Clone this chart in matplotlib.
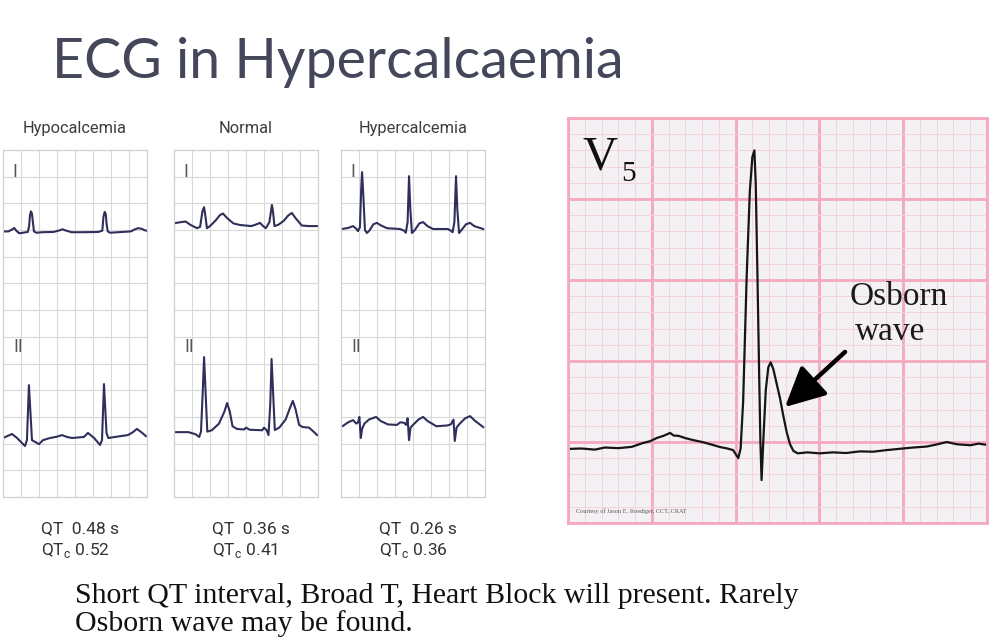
import matplotlib
matplotlib.use('Agg')
import matplotlib.pyplot as plt

W, H = 996, 643

# ---------------------------------------------------------------
# Data: ECG traces (grid units of each strip)
panel_names = ['Hypocalcemia', 'Normal', 'Hypercalcemia']
qt_values = ['0.48 s', '0.36 s', '0.26 s']
qtc_values = ['0.52', '0.41', '0.36']

hypo_I_x = [0, 0.3, 0.5, 0.62, 0.75, 0.9, 1.1, 1.38, 1.45, 1.5, 1.55, 1.61, 1.66, 1.72, 1.85, 2.2, 2.8, 3.1,
            3.3, 3.5, 3.8, 4.5, 5.3, 5.52, 5.58, 5.65, 5.71, 5.76, 5.82, 5.95, 6.4, 7.1, 7.3, 7.5, 7.7, 7.85, 8.0]
hypo_I_y = [9.95, 9.95, 10.02, 10.08, 9.97, 9.88, 9.9, 9.93, 10.15, 10.55, 10.7, 10.62, 10.3, 9.95, 9.9, 9.92,
            9.93, 9.98, 10.03, 9.98, 9.92, 9.92, 9.93, 9.98, 10.5, 10.68, 10.6, 10.2, 9.95, 9.9, 9.92, 9.95, 10.02,
            10.07, 10.05, 10.0, 9.97]
hypo_II_x = [0, 0.5, 0.78, 1.22, 1.33, 1.44, 1.61, 2.0, 2.22, 2.61, 3.0, 3.28, 3.55, 3.83, 4.5, 4.72, 4.9, 5.06,
             5.39, 5.5, 5.61, 5.75, 5.85, 6.22, 6.94, 7.2, 7.44, 7.7, 7.94]
hypo_II_y = [2.21, 2.36, 2.21, 1.91, 2.13, 4.19, 2.13, 1.98, 2.13, 2.21, 2.26, 2.32, 2.25, 2.21, 2.25, 2.4, 2.3,
             2.21, 1.95, 2.13, 4.23, 2.4, 2.21, 2.25, 2.32, 2.42, 2.55, 2.42, 2.28]

norm_I_x = [0.05, 0.4, 0.65, 0.9, 1.28, 1.45, 1.58, 1.67, 1.75, 1.83, 2.0, 2.3, 2.55, 2.72, 2.95, 3.3, 3.67, 4.3,
            4.6, 4.78, 4.95, 5.1, 5.3, 5.44, 5.5, 5.58, 5.8, 6.1, 6.35, 6.55, 6.75, 7.1, 7.5, 8.0]
norm_I_y = [10.26, 10.3, 10.32, 10.2, 10.07, 10.12, 10.7, 10.86, 10.5, 10.07, 10.15, 10.35, 10.56, 10.62, 10.45,
            10.25, 10.19, 10.15, 10.22, 10.27, 10.15, 10.07, 10.3, 10.94, 10.7, 10.15, 10.2, 10.35, 10.55, 10.64,
            10.45, 10.17, 10.15, 10.15]
norm_II_x = [0.05, 0.8, 1.2, 1.4, 1.5, 1.6, 1.67, 1.75, 1.85, 2.1, 2.5, 2.8, 2.95, 3.1, 3.25, 3.5, 3.9, 4.0, 4.2,
             4.9, 5.0, 5.15, 5.25, 5.35, 5.42, 5.5, 5.6, 5.85, 6.2, 6.45, 6.6, 6.75, 6.95, 7.15, 7.5, 7.75, 7.95]
norm_II_y = [2.43, 2.43, 2.35, 2.25, 2.45, 4.0, 5.24, 4.0, 2.45, 2.5, 2.75, 3.2, 3.52, 3.2, 2.65, 2.55, 2.53, 2.6,
             2.52, 2.5, 2.6, 2.5, 2.32, 3.5, 5.17, 4.0, 2.51, 2.6, 2.9, 3.35, 3.6, 3.3, 2.7, 2.62, 2.6, 2.45, 2.32]

hyper_I_x = [0.05, 0.4, 0.67, 0.85, 0.94, 1.05, 1.12, 1.17, 1.24, 1.33, 1.44, 1.6, 1.8, 2.0, 2.2, 2.56, 3.28, 3.5,
             3.6, 3.7, 3.78, 3.85, 3.94, 4.1, 4.35, 4.56, 4.8, 5.11, 5.94, 6.1, 6.2, 6.3, 6.39, 6.46, 6.56, 6.75,
             6.95, 7.17, 7.4, 7.9]
hyper_I_y = [10.04, 10.08, 10.15, 10.05, 9.96, 10.1, 11.5, 12.17, 11.3, 10.0, 9.89, 10.0, 10.22, 10.27, 10.18,
             10.07, 10.04, 9.98, 9.9, 10.3, 12.02, 10.8, 9.89, 10.0, 10.25, 10.3, 10.15, 10.04, 10.04, 9.98, 9.92,
             10.3, 12.02, 10.8, 9.89, 10.05, 10.22, 10.27, 10.15, 10.04]
hyper_II_x = [0.1, 0.4, 0.67, 0.85, 0.95, 1.02, 1.1, 1.17, 1.3, 1.55, 1.95, 2.2, 2.6, 3.1, 3.3, 3.5, 3.62, 3.7,
              3.78, 3.86, 4.0, 4.3, 4.56, 4.8, 5.3, 5.9, 6.1, 6.25, 6.32, 6.42, 6.6, 6.9, 7.17, 7.45, 7.9]
hyper_II_y = [2.66, 2.8, 2.88, 2.75, 2.8, 3.0, 2.21, 2.55, 2.75, 2.9, 3.0, 2.85, 2.72, 2.7, 2.8, 2.78, 2.7, 2.95,
              2.13, 2.6, 2.7, 2.9, 3.0, 2.85, 2.65, 2.68, 2.72, 2.9, 2.1, 2.6, 2.75, 2.95, 3.03, 2.85, 2.62]

# V5 strip, millimetre units (5 mm per big square)
v5_x = [0, 0.8, 1.6, 2.2, 3.0, 3.8, 4.48, 4.9, 5.3, 5.7, 6.09, 6.3, 6.6, 7.0, 7.46, 8.0, 8.5, 9.07, 9.5, 9.85,
        10.16, 10.3, 10.45, 10.66, 10.85, 11.0, 11.12, 11.2, 11.3, 11.4, 11.48, 11.55, 11.65, 11.8, 11.95, 12.09,
        12.25, 12.45, 12.65, 12.85, 13.05, 13.25, 13.45, 13.7, 14.3, 15.0, 15.8, 16.6, 17.4, 18.2, 19.0, 19.8,
        20.6, 21.4, 22.0, 22.6, 23.2, 24.0, 24.5, 25.0]
v5_y = [4.57, 4.6, 4.53, 4.66, 4.62, 4.7, 4.94, 5.05, 5.25, 5.38, 5.56, 5.4, 5.38, 5.24, 5.12, 5.0, 4.86, 4.69,
        4.6, 4.5, 4.0, 4.6, 7.5, 15.2, 20.5, 22.6, 23.0, 21.0, 15.5, 9.5, 5.0, 2.65, 5.0, 8.2, 9.6, 9.92, 9.5,
        8.6, 7.7, 6.6, 5.6, 4.85, 4.45, 4.3, 4.36, 4.3, 4.36, 4.32, 4.42, 4.4, 4.5, 4.58, 4.66, 4.72, 4.85, 5.0,
        4.86, 4.8, 4.9, 4.82]

traces = [
    ((hypo_I_x, hypo_I_y), (hypo_II_x, hypo_II_y)),
    ((norm_I_x, norm_I_y), (norm_II_x, norm_II_y)),
    ((hyper_I_x, hyper_I_y), (hyper_II_x, hyper_II_y)),
]

# ---------------------------------------------------------------
narrow = ['Liberation Sans Narrow', 'Roboto', 'DejaVu Sans']
serif = ['Liberation Serif', 'DejaVu Serif']


def fx(px):
    return px / W


def fy(py):
    return 1 - py / H


fig = plt.figure(figsize=(W / 100, H / 100), dpi=100)
fig.patch.set_facecolor('white')

fig.text(fx(52), fy(78), 'ECG in Hypercalcaemia', family=['Lato', 'DejaVu Sans'], fontsize=40,
         color='#44475a', ha='left', va='baseline')

# three small strips
strip_left = [3, 174, 341]
for i, left in enumerate(strip_left):
    ax = fig.add_axes([fx(left), fy(497), 144 / W, 347 / H])
    ax.set_xlim(0, 8)
    ax.set_ylim(0, 13)
    ax.set_xticks(range(1, 8))
    ax.set_yticks(range(1, 13))
    ax.grid(True, color='#d9d9d9', lw=0.8)
    ax.tick_params(length=0, labelbottom=False, labelleft=False)
    for s in ax.spines.values():
        s.set_color('#d0d0d0')
        s.set_linewidth(0.9)
    for (tx, ty) in traces[i]:
        ax.plot(tx, ty, color='#2f2f5c', lw=1.5, solid_joinstyle='round')

    cx = left + 72
    fig.text(fx(cx), fy(133), panel_names[i], family=narrow, fontsize=11.8, color='#3c3c3c',
             ha='center', va='baseline')
    fig.text(fx(left + 9), fy(177), 'I', family=narrow, fontsize=13, color='#555555', ha='left', va='baseline')
    fig.text(fx(left + 10), fy(352), 'II', family=narrow, fontsize=13, color='#555555', ha='left', va='baseline')
    fig.text(fx(left + 38), fy(533), 'QT  ' + qt_values[i], family=narrow, fontsize=12.5, color='#333333',
             ha='left', va='baseline')
    fig.text(fx(left + 38), fy(555), r'QT$_\mathregular{c}$ ' + qtc_values[i], family=narrow, fontsize=12.5,
             color='#333333', ha='left', va='baseline')

# V5 strip on pink paper
ax5 = fig.add_axes([fx(568), fy(523), 419 / W, 405 / H])
ax5.set_facecolor('#f4f1f5')
ax5.set_xlim(0, 25)
ax5.set_ylim(0, 25)
ax5.set_xticks(range(0, 26, 5))
ax5.set_yticks(range(0, 26, 5))
ax5.set_xticks(range(0, 26), minor=True)
ax5.set_yticks(range(0, 26), minor=True)
ax5.grid(True, which='minor', color='#f2d3de', lw=0.7)
ax5.grid(True, which='major', color='#f5a9bd', lw=2.0)
ax5.set_axisbelow(True)
ax5.tick_params(which='both', length=0, labelbottom=False, labelleft=False)
for s in ax5.spines.values():
    s.set_color('#f5a9bd')
    s.set_linewidth(2.0)
ax5.plot(v5_x, v5_y, color='#151515', lw=1.6, solid_joinstyle='round')

ax5.annotate('', xy=(12.95, 7.16), xytext=(16.53, 10.56),
             arrowprops=dict(arrowstyle='-|>,head_length=1.1,head_width=0.55', color='black', lw=3.2,
                             mutation_scale=22, shrinkA=0, shrinkB=0))

fig.text(fx(582), fy(170), 'V', family=serif, fontsize=35, color='#111111', ha='left', va='baseline')
fig.text(fx(621), fy(181), '5', family=serif, fontsize=21, color='#111111', ha='left', va='baseline')
fig.text(fx(850), fy(305), 'Osborn', family=serif, fontsize=24, color='#1a1a1a', ha='left', va='baseline')
fig.text(fx(855), fy(340), 'wave', family=serif, fontsize=24, color='#1a1a1a', ha='left', va='baseline')
fig.text(fx(576), fy(513), 'Courtesy of Jason E. Roediger, CCT, CRAT', family=serif, fontsize=4.5,
         color='#555555', ha='left', va='baseline')

# caption
fig.text(fx(75), fy(603), 'Short QT interval, Broad T, Heart Block will present. Rarely', family=serif,
         fontsize=21.5, color='#111111', ha='left', va='baseline')
fig.text(fx(75), fy(631), 'Osborn wave may be found.', family=serif, fontsize=21.5, color='#111111',
         ha='left', va='baseline')

fig.savefig('out.png', dpi=100)
